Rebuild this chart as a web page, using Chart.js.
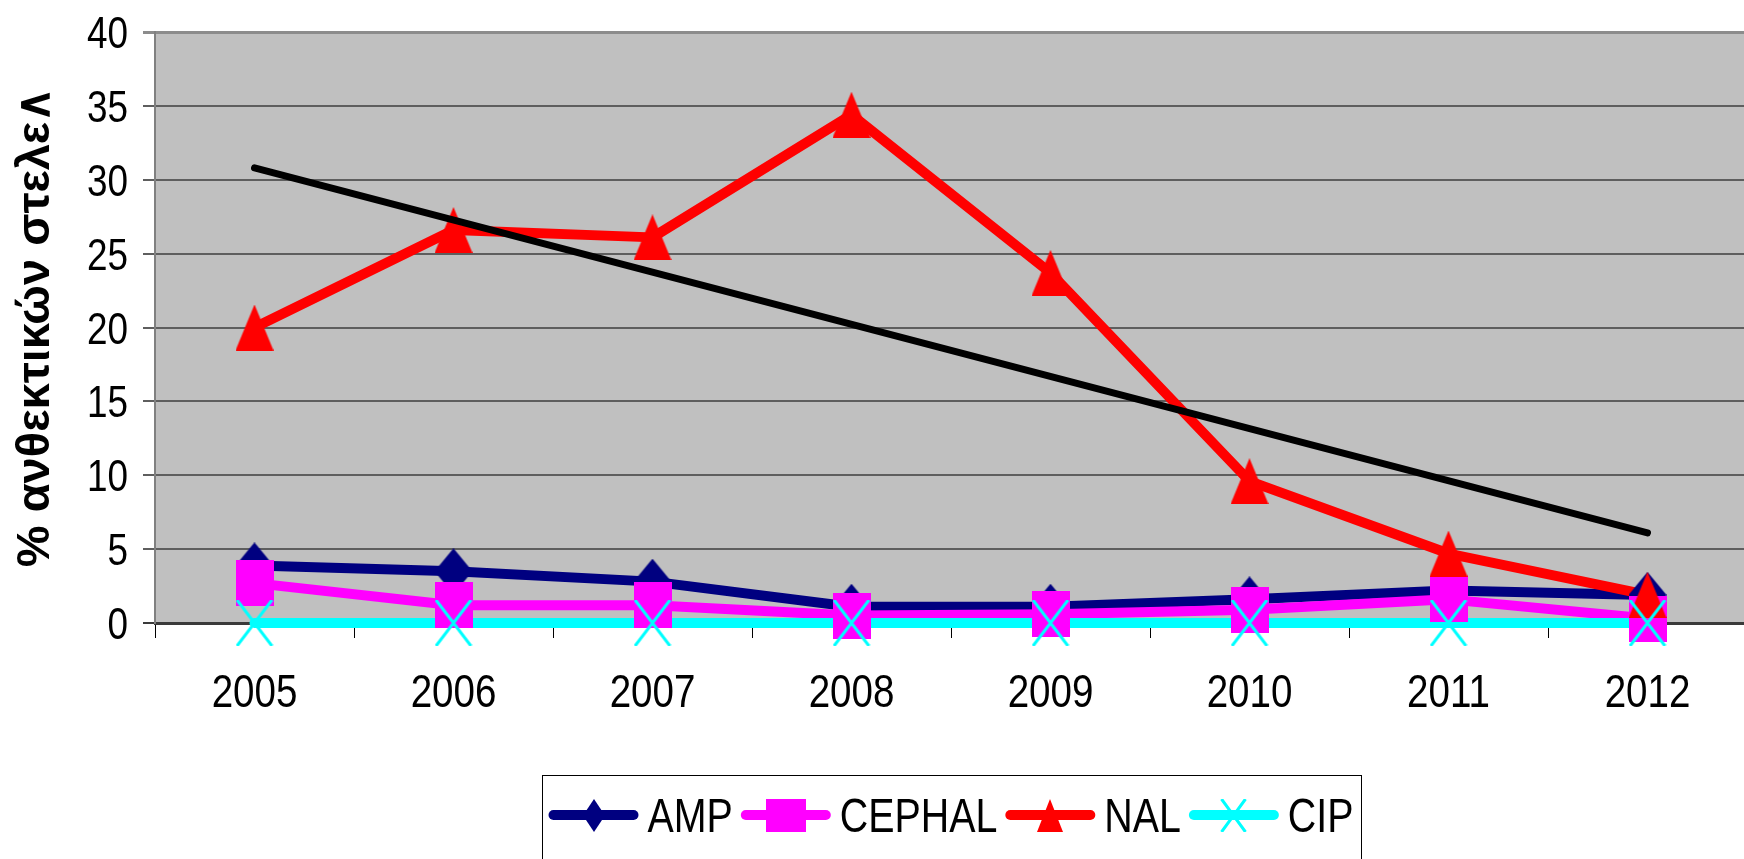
<!DOCTYPE html>
<html>
<head>
<meta charset="utf-8">
<script src="https://cdn.jsdelivr.net/npm/chart.js@4.4.1/dist/chart.umd.min.js"></script>
<style>
  html, body { margin: 0; padding: 0; background: #fff; overflow: hidden; }
  #wrap { width: 1744px; height: 859px; overflow: hidden; position: relative; }
  canvas { display: block; }
</style>
</head>
<body>
<div id="wrap"><canvas id="chart" width="1770" height="859"></canvas></div>
<script>
// values
const years = ["2005", "2006", "2007", "2008", "2009", "2010", "2011", "2012"];
const amp = [3.9, 3.5, 2.8, 1.1, 1.1, 1.6, 2.2, 1.9];
const cephal = [2.7, 1.2, 1.2, 0.5, 0.6, 0.9, 1.6, 0.3];
const nal = [20.0, 26.6, 26.1, 34.4, 23.7, 9.6, 4.7, 1.9];
const cip = [0, 0, 0, 0, 0, 0, 0, 0];
// trend line of NAL, only its two end points are visible
const nalTrend = [30.8, null, null, null, null, null, null, 6.1];
const yTicks = [0, 5, 10, 15, 20, 25, 30, 35, 40];

const yTitle = "% ανθεκτικών στελε∧";
const baseFont = '"Liberation Sans", Arial, sans-serif';
const squeeze = 0.82; // the picture's text is a narrow Arial

function makeMarker(kind, color, w, h) {
    const c = document.createElement("canvas");
    c.width = w;
    c.height = h;
    const g = c.getContext("2d");
    g.fillStyle = color;
    g.strokeStyle = color;
    g.beginPath();
    if (kind == "diamond") {
        g.moveTo(w / 2, 0); g.lineTo(w, h / 2); g.lineTo(w / 2, h); g.lineTo(0, h / 2);
        g.closePath(); g.fill();
    } else if (kind == "rect") {
        g.fillRect(0, 0, w, h);
    } else if (kind == "triangle") {
        g.moveTo(w / 2, 0); g.lineTo(w, h); g.lineTo(0, h);
        g.closePath(); g.fill();
    } else {
        g.lineWidth = 3;
        g.moveTo(1.5, 0); g.lineTo(w - 1.5, h);
        g.moveTo(w - 1.5, 0); g.lineTo(1.5, h);
        g.stroke();
    }
    return c;
}

function narrowText(ctx, text, x, y, align) {
    ctx.save();
    ctx.translate(x, y);
    ctx.scale(squeeze, 1);
    ctx.textAlign = align;
    ctx.fillText(text, 0, 0);
    ctx.restore();
}

const series = [
    { label: "AMP", data: amp, color: "#000080", shape: "diamond", lw: 22, lh: 33 },
    { label: "CEPHAL", data: cephal, color: "#ff00ff", shape: "rect", lw: 40, lh: 33 },
    { label: "NAL", data: nal, color: "#ff0000", shape: "triangle", lw: 26, lh: 33 },
    { label: "CIP", data: cip, color: "#00ffff", shape: "x", lw: 27, lh: 33 }
];
series.forEach(s => {
    s.marker = makeMarker(s.shape, s.color, 38, 46);
    s.legendMarker = makeMarker(s.shape, s.color, s.lw, s.lh);
});

// Excel draws all lines first, then all markers, then the trend line
const datasets = [];
series.forEach((s, i) => {
    datasets.push({
        label: s.label + " line",
        data: s.data,
        borderColor: s.color,
        borderWidth: 10,
        borderCapStyle: "round",
        borderJoinStyle: "round",
        pointRadius: 0,
        fill: false,
        clip: false,
        order: 20 - i
    });
    datasets.push({
        label: s.label,
        data: s.data,
        showLine: false,
        pointStyle: s.marker,
        pointRadius: 23,
        pointBorderWidth: 0,
        clip: false,
        order: 10 - i
    });
});
datasets.push({
    label: "trend",
    data: nalTrend,
    borderColor: "#000000",
    borderWidth: 7,
    borderCapStyle: "round",
    pointRadius: 0,
    spanGaps: true,
    clip: false,
    order: 0
});

const plotBackground = {
    id: "plotBackground",
    beforeDraw(chart) {
        const ctx = chart.ctx, a = chart.chartArea;
        ctx.save();
        ctx.fillStyle = "#ffffff";
        ctx.fillRect(0, 0, chart.width, chart.height);
        ctx.fillStyle = "#c0c0c0";
        ctx.fillRect(a.left, a.top, a.right - a.left, a.bottom - a.top);
        ctx.restore();
    }
};

// tick labels in narrow type, placed by the library's scales
const narrowTicks = {
    id: "narrowTicks",
    afterDraw(chart) {
        const ctx = chart.ctx;
        const xs = chart.scales.x, ys = chart.scales.y;
        ctx.save();
        ctx.fillStyle = "#000";
        ctx.font = "47px " + baseFont;
        ctx.textBaseline = "alphabetic";
        years.forEach((y, i) => {
            narrowText(ctx, y, xs.getPixelForTick(i), xs.top + 84, "center");
        });
        ctx.font = "45px " + baseFont;
        yTicks.forEach(v => {
            narrowText(ctx, String(v), ys.right - 27, ys.getPixelForValue(v) + 16, "right");
        });
        ctx.restore();
    }
};

const legendBox = {
    id: "legendBox",
    afterDraw(chart) {
        const ctx = chart.ctx, a = chart.chartArea;
        ctx.save();
        ctx.font = "48px " + baseFont;
        const sample = 90, gapText = 9, gapItem = 8, pad = 7;
        const widths = series.map(s => ctx.measureText(s.label).width * squeeze);
        const total = pad * 2 + series.length * (sample + gapText) +
            widths.reduce((p, c) => p + c, 0) + (series.length - 1) * gapItem;
        let x = (a.left + a.right) / 2 - total / 2;
        const top = 775, cy = 815;
        ctx.strokeStyle = "#000";
        ctx.lineWidth = 1;
        ctx.strokeRect(Math.round(x) + 0.5, top + 0.5, Math.round(total), 140);
        x += pad;
        series.forEach((s, i) => {
            ctx.strokeStyle = s.color;
            ctx.lineWidth = 10;
            ctx.lineCap = "round";
            ctx.beginPath();
            ctx.moveTo(x + 5, cy);
            ctx.lineTo(x + sample - 5, cy);
            ctx.stroke();
            const m = s.legendMarker;
            ctx.drawImage(m, Math.round(x + sample / 2 - m.width / 2), Math.round(cy - m.height / 2));
            x += sample + gapText;
            ctx.fillStyle = "#000";
            ctx.textBaseline = "alphabetic";
            narrowText(ctx, s.label, x, cy + 17, "left");
            x += widths[i] + gapItem;
        });
        ctx.restore();
    }
};

new Chart(document.getElementById("chart"), {
    type: "line",
    data: { labels: years, datasets },
    options: {
        responsive: false,
        animation: false,
        events: [],
        layout: { padding: { top: 32, right: 14, bottom: 126, left: 0 } },
        plugins: {
            legend: { display: false },
            tooltip: { enabled: false }
        },
        scales: {
            x: {
                offset: true,
                grid: {
                    offset: true,
                    drawOnChartArea: false,
                    drawTicks: true,
                    tickLength: 15,
                    color: "#000",
                    lineWidth: 1
                },
                border: { display: true, color: "#3a3a3a", width: 3 },
                ticks: { display: false },
                afterFit: (scale) => { scale.height = 110; }
            },
            y: {
                min: 0,
                max: 40,
                afterBuildTicks: (scale) => { scale.ticks = yTicks.map(v => ({ value: v })); },
                grid: {
                    color: (c) => c.tick && c.tick.value == 40 ? "#8c8c8c" : c.tick && c.tick.value == 0 ? "#3a3a3a" : "#5e5e5e",
                    lineWidth: (c) => c.tick && c.tick.value == 40 ? 3 : 2,
                    tickLength: 12
                },
                border: { display: true, color: "#808080", width: 2 },
                ticks: { display: false },
                title: {
                    display: true,
                    text: yTitle,
                    color: "#000",
                    font: { family: baseFont, size: 47, weight: "bold" },
                    padding: { top: 8, bottom: 0 }
                },
                afterFit: (scale) => { scale.width = 155; }
            }
        }
    },
    plugins: [plotBackground, narrowTicks, legendBox]
});
</script>
</body>
</html>
